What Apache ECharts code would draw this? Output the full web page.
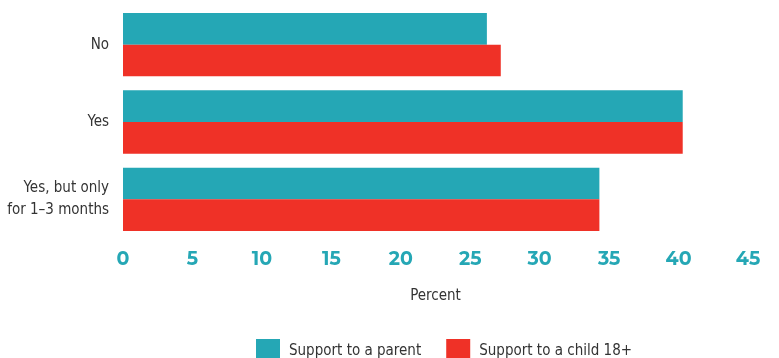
<!DOCTYPE html>
<html>
<head>
<meta charset="utf-8">
<script src="https://cdn.jsdelivr.net/npm/echarts@6/dist/echarts.min.js"></script>
<style>
  html, body { margin: 0; padding: 0; background: #fff; }
  #chart { width: 779px; height: 358px; }
</style>
</head>
<body>
<div id="chart"></div>
<script>
// Categories listed bottom-to-top for the category y axis
const categories = ['Yes, but only\nfor 1–3 months', 'Yes', 'No'];
const parentSupport = [34.3, 40.3, 26.2];
const childSupport = [34.3, 40.3, 27.2];
const xTicks = { min: 0, max: 45, interval: 5 };

const TEAL = '#25a7b5';
const RED = '#ef3127';
const condensed = '"DejaVu Sans Condensed", "Liberation Sans Narrow", sans-serif';

const chart = echarts.init(document.getElementById('chart'));
chart.setOption({
  animation: false,
  grid: { left: 123, right: 31, top: 6, height: 232, containLabel: false, outerBoundsMode: 'none' },
  legend: {
    top: 334,
    left: 251,
    itemWidth: 24,
    itemHeight: 24,
    itemGap: 25,
    icon: 'rect',
    textStyle: { fontFamily: condensed, fontSize: 15, color: '#333', padding: [0, 0, 0, 4] },
    data: ['Support to a parent', 'Support to a child 18+']
  },
  xAxis: {
    type: 'value',
    min: xTicks.min,
    max: xTicks.max,
    interval: xTicks.interval,
    name: 'Percent',
    nameLocation: 'middle',
    nameGap: 51,
    nameTextStyle: { fontFamily: condensed, fontSize: 15, color: '#333' },
    axisLine: { show: false },
    axisTick: { show: false },
    splitLine: { show: false },
    axisLabel: {
      margin: 12,
      color: TEAL,
      fontWeight: 'bold',
      fontSize: 19,
      fontFamily: 'Montserrat, "Open Sans", "DejaVu Sans", sans-serif'
    }
  },
  yAxis: {
    type: 'category',
    data: categories,
    axisLine: { show: false },
    axisTick: { show: false },
    axisLabel: {
      margin: 14,
      color: '#333',
      fontSize: 15,
      lineHeight: 22,
      fontFamily: condensed,
      align: 'right'
    }
  },
  series: [
    {
      name: 'Support to a parent',
      type: 'bar',
      data: parentSupport,
      itemStyle: { color: TEAL },
      barGap: '0%',
      barCategoryGap: '18%'
    },
    {
      name: 'Support to a child 18+',
      type: 'bar',
      data: childSupport,
      itemStyle: { color: RED },
      barGap: '0%',
      barCategoryGap: '18%'
    }
  ]
});
</script>
</body>
</html>
